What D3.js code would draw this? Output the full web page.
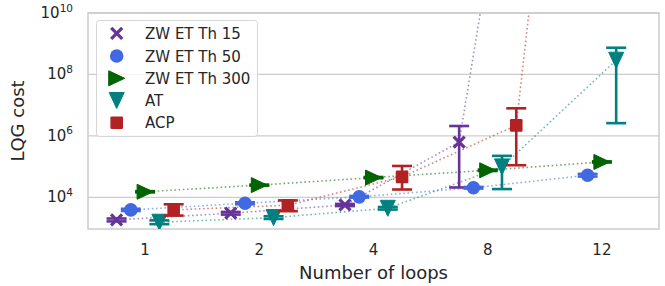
<!DOCTYPE html>
<html>
<head>
<meta charset="utf-8">
<script src="https://cdn.jsdelivr.net/npm/d3@7"></script>
<style>
  html, body { margin: 0; padding: 0; background: #fff; }
  svg { display: block; font-family: "DejaVu Sans", sans-serif; }
</style>
</head>
<body>
<svg id="chart" width="665" height="286"></svg>
<script>
// ---------- data ----------
const categories = ["1", "2", "4", "8", "12"];
const seriesNames = ["ZW ET Th 15", "ZW ET Th 50", "ZW ET Th 300", "AT", "ACP"];
const seriesColors = ["#663399", "#4169e1", "#006400", "#008080", "#b22222"];
const seriesMarkers = ["x", "circle", "triangleRight", "triangleDown", "square"];

const zw15Mean = [1840, 3040, 5640, 630000, 3e28];
const zw15Lo   = [1650, 2750, 5200, 21000, 1e25];
const zw15Hi   = [2050, 3350, 6100, 2.1e6, 1e31];

const zw50Mean = [3900, 6400, 10400, 20500, 52500];
const zw50Lo   = [3600, 5950, 9800, 19300, 47500];
const zw50Hi   = [4250, 6900, 11100, 21800, 58000];

const zw300Mean = [15200, 25000, 44000, 76000, 142000];
const zw300Lo   = [14500, 24000, 42000, 72000, 136000];
const zw300Hi   = [15900, 26000, 46000, 80000, 148000];

const atMean = [1550, 2190, 4400, 98000, 2.9e8];
const atLo   = [1340, 1980, 4000, 18600, 2.6e6];
const atHi   = [1780, 2430, 4850, 224000, 7.4e8];

const acpMean = [3900, 5550, 46500, 2.2e6, 2.5e39];
const acpLo   = [2550, 3550, 18000, 111000, 1e35];
const acpHi   = [5950, 7950, 105000, 7.9e6, 1e42];

const yTickValues = [1e4, 1e6, 1e8, 1e10];
const yTickExponents = ["4", "6", "8", "10"];
const xLabel = "Number of loops";
const yLabel = "LQG cost";

(function () {
const series = [
  { mean: zw15Mean, lo: zw15Lo, hi: zw15Hi },
  { mean: zw50Mean, lo: zw50Lo, hi: zw50Hi },
  { mean: zw300Mean, lo: zw300Lo, hi: zw300Hi },
  { mean: atMean, lo: atLo, hi: atHi },
  { mean: acpMean, lo: acpLo, hi: acpHi },
].map((s, i) => ({ ...s, name: seriesNames[i], color: seriesColors[i], marker: seriesMarkers[i] }));

// ---------- layout ----------
const svg = d3.select("#chart");
const pLeft = 88, pRight = 659, pTop = 13, pBottom = 229;
const textColor = "#262626";
const gridColor = "#cccccc";

const x = d3.scaleBand().domain(categories).range([pLeft, pRight]).padding(0);
const y = d3.scaleLog().domain([933, 1e10]).range([pBottom, pTop]);
const dodgeStep = 0.125 * x.bandwidth();
const xPos = (ci, si) => x(categories[ci]) + x.bandwidth() / 2 + (si - 2) * dodgeStep;

// grid
svg.append("g").selectAll("line").data(yTickValues).join("line")
  .attr("x1", pLeft).attr("x2", pRight)
  .attr("y1", d => y(d)).attr("y2", d => y(d))
  .attr("stroke", gridColor).attr("stroke-width", 1.3);

// axes frame
svg.append("rect").attr("x", pLeft).attr("y", pTop)
  .attr("width", pRight - pLeft).attr("height", pBottom - pTop)
  .attr("fill", "none").attr("stroke", gridColor).attr("stroke-width", 1.5);

// y tick labels
const yt = svg.append("g");
yTickValues.forEach((v, i) => {
  const t = yt.append("text")
    .attr("x", 73).attr("y", y(v) + 5)
    .attr("text-anchor", "end")
    .attr("fill", textColor).attr("font-size", 15);
  t.append("tspan").text("10");
  t.append("tspan").attr("font-size", 10.5).attr("dy", -6.5).text(yTickExponents[i]);
});

// x tick labels
svg.append("g").selectAll("text").data(categories).join("text")
  .attr("x", d => x(d) + x.bandwidth() / 2)
  .attr("y", 255)
  .attr("text-anchor", "middle")
  .attr("fill", textColor).attr("font-size", 15)
  .text(d => d);

// axis labels
svg.append("text").attr("x", (pLeft + pRight) / 2).attr("y", 279)
  .attr("text-anchor", "middle").attr("fill", textColor).attr("font-size", 18)
  .text(xLabel);
svg.append("text")
  .attr("transform", `translate(24,${(pTop + pBottom) / 2}) rotate(-90)`)
  .attr("text-anchor", "middle").attr("fill", textColor).attr("font-size", 18)
  .text(yLabel);

// clip
svg.append("defs").append("clipPath").attr("id", "plotclip")
  .append("rect").attr("x", pLeft).attr("y", pTop)
  .attr("width", pRight - pLeft).attr("height", pBottom - pTop);

const plot = svg.append("g").attr("clip-path", "url(#plotclip)");

function drawMarker(g, type, cx, cy, color) {
  if (type === "x") {
    const r = 5.5;
    g.append("path")
      .attr("d", `M${cx - r},${cy - r}L${cx + r},${cy + r}M${cx - r},${cy + r}L${cx + r},${cy - r}`)
      .attr("stroke", color).attr("stroke-width", 3.2).attr("fill", "none");
  } else if (type === "circle") {
    g.append("circle").attr("cx", cx).attr("cy", cy).attr("r", 6.8).attr("fill", color);
  } else if (type === "triangleRight") {
    const w = 8, h = 7.5;
    g.append("path")
      .attr("d", `M${cx + w},${cy}L${cx - w},${cy - h}L${cx - w},${cy + h}Z`)
      .attr("fill", color).attr("stroke", color).attr("stroke-width", 1).attr("stroke-linejoin", "round");
  } else if (type === "triangleDown") {
    const w = 7.5, h = 8;
    g.append("path")
      .attr("d", `M${cx},${cy + h}L${cx - w},${cy - h}L${cx + w},${cy - h}Z`)
      .attr("fill", color).attr("stroke", color).attr("stroke-width", 1).attr("stroke-linejoin", "round");
  } else if (type === "square") {
    const r = 6.3;
    g.append("rect").attr("x", cx - r).attr("y", cy - r).attr("width", 2 * r).attr("height", 2 * r)
      .attr("rx", 1.2).attr("fill", color);
  }
}

series.forEach((s, si) => {
  const line = d3.line().x((d, i) => xPos(i, si)).y(d => y(d));
  plot.append("path").datum(s.mean)
    .attr("d", line)
    .attr("fill", "none")
    .attr("stroke", s.color)
    .attr("stroke-opacity", 0.55)
    .attr("stroke-width", 1.6)
    .attr("stroke-dasharray", "1.6,2.6");
});

series.forEach((s, si) => {
  const g = plot.append("g");
  s.mean.forEach((m, ci) => {
    const cx = xPos(ci, si);
    const lo = y(s.lo[ci]), hi = y(s.hi[ci]);
    g.append("line").attr("x1", cx).attr("x2", cx).attr("y1", lo).attr("y2", hi)
      .attr("stroke", s.color).attr("stroke-width", 2.6);
    [lo, hi].forEach(yy => {
      g.append("line").attr("x1", cx - 10).attr("x2", cx + 10).attr("y1", yy).attr("y2", yy)
        .attr("stroke", s.color).attr("stroke-width", 2.6);
    });
    drawMarker(g, s.marker, cx, y(m), s.color);
  });
});

// legend
const lg = svg.append("g");
lg.append("rect").attr("x", 96.5).attr("y", 20.5).attr("width", 161).attr("height", 116)
  .attr("rx", 3).attr("fill", "#ffffff").attr("fill-opacity", 0.8)
  .attr("stroke", "#d6d6d6").attr("stroke-width", 1);
const legendY = [33.3, 56, 78.3, 100.5, 122.7];
series.forEach((s, si) => {
  drawMarker(lg, s.marker, 116.7, legendY[si], s.color);
  lg.append("text").attr("x", 145).attr("y", legendY[si] + 5.5)
    .attr("fill", textColor).attr("font-size", 15).text(s.name);
});
})();
</script>
</body>
</html>
